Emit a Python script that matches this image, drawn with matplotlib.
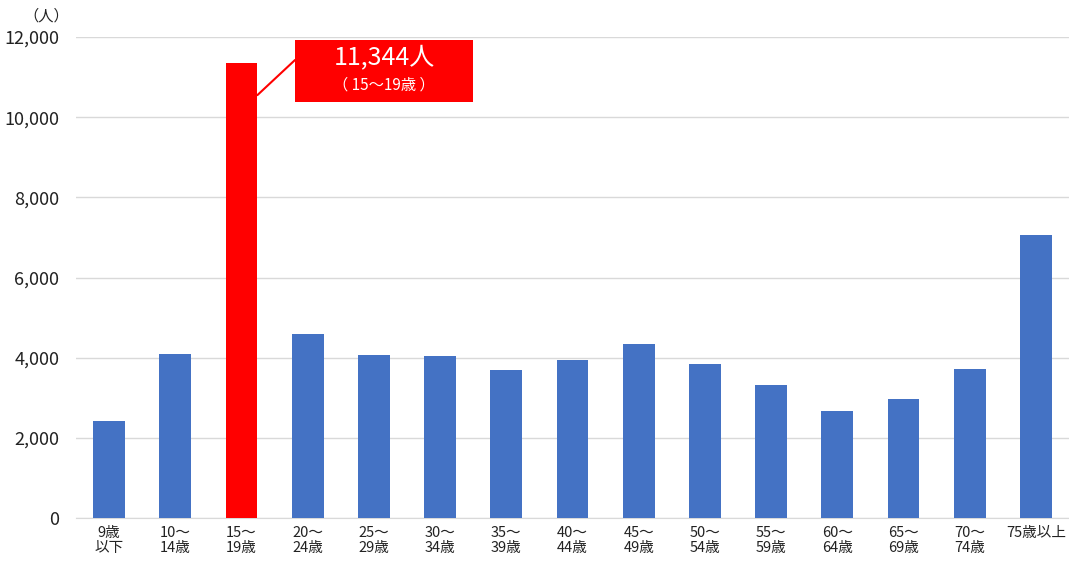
import matplotlib
matplotlib.use('Agg')
import matplotlib.pyplot as plt
from matplotlib.patches import Rectangle

plt.rcParams['font.family'] = ['Noto Sans CJK JP', 'DejaVu Sans']

# age groups and counts
age_labels = ["9歳\n以下", "10～\n14歳", "15～\n19歳", "20～\n24歳", "25～\n29歳",
              "30～\n34歳", "35～\n39歳", "40～\n44歳", "45～\n49歳", "50～\n54歳",
              "55～\n59歳", "60～\n64歳", "65～\n69歳", "70～\n74歳", "75歳以上"]
counts = [2430, 4100, 11344, 4580, 4070, 4040, 3690, 3940, 4330, 3830,
          3330, 2680, 2970, 3710, 7060]
highlight = 2
yticks = [0, 2000, 4000, 6000, 8000, 10000, 12000]

fig = plt.figure(figsize=(10.69, 5.62), dpi=100)
ax = fig.add_axes([76/1069, 1-518/562, 993/1069, 481/562])

colors = ['#4472c4'] * len(counts)
colors[highlight] = '#ff0000'
x = list(range(len(counts)))
ax.bar(x, counts, width=0.48, color=colors, zorder=3)

ax.set_xlim(-0.5, len(counts) - 0.5)
ax.set_ylim(0, 12000)
ax.set_yticks(yticks)
ax.set_yticklabels([f"{v:,}" for v in yticks], fontsize=13, color='#222222')
ax.set_xticks(x)
ax.set_xticklabels(age_labels, fontsize=10.5, color='#222222', va='top', linespacing=1.05)
ax.tick_params(axis='both', length=0)
ax.tick_params(axis='x', pad=6)
ax.tick_params(axis='y', pad=12)
ax.grid(axis='y', color='#d9d9d9', linewidth=1, zorder=0)
for s in ['top', 'right', 'left']:
    ax.spines[s].set_visible(False)
ax.spines['bottom'].set_color('#d9d9d9')

fig.text(46/1069, 1-16/562, "（人）", fontsize=11, ha='center', va='center', color='#222222')

# callout box
x0, x1 = (295-76)/993, (473-76)/993
y0, y1 = (518-102)/481, (518-40)/481
ax.add_patch(Rectangle((x0, y0), x1-x0, y1-y0, transform=ax.transAxes,
                       facecolor='#ff0000', edgecolor='none', zorder=5, clip_on=False))
ax.text((x0+x1)/2, y0+(y1-y0)*0.72, f"{counts[highlight]:,}人", transform=ax.transAxes,
        ha='center', va='center', color='white', fontsize=18, zorder=6)
ax.text((x0+x1)/2, y0+(y1-y0)*0.28, "（ 15～19歳 ）", transform=ax.transAxes,
        ha='center', va='center', color='white', fontsize=11, zorder=6)
ax.annotate("", xy=(highlight+0.24, 10550), xycoords='data',
            xytext=(x0, (518-60)/481), textcoords='axes fraction',
            arrowprops=dict(arrowstyle='-', color='#ff0000', lw=1.5,
                            shrinkA=0, shrinkB=0), zorder=4)

fig.savefig('out.png', dpi=100)
